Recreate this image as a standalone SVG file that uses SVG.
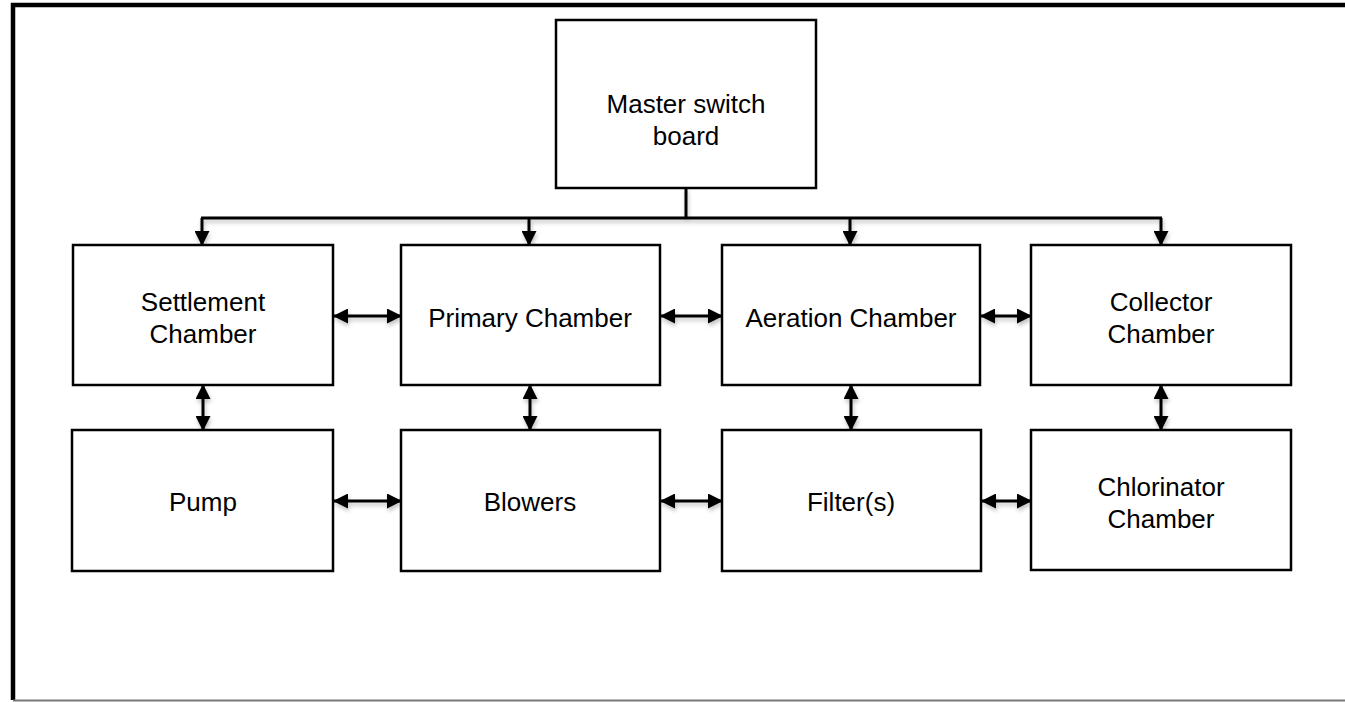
<svg xmlns="http://www.w3.org/2000/svg" width="1345" height="702" viewBox="0 0 1345 702">
  <style>
    .box { fill: #ffffff; stroke: #000000; stroke-width: 2.5; }
    .label { font-family: "Liberation Sans", Arial, sans-serif; font-size: 26px; fill: #000000; text-anchor: middle; }
    .wire { fill: none; stroke: #000000; stroke-width: 3; }
  </style>
  <defs>
    <filter id="shade" x="-20%" y="-20%" width="140%" height="140%">
      <feGaussianBlur in="SourceAlpha" stdDeviation="2"/>
      <feOffset dx="1" dy="3" result="blur"/>
      <feComponentTransfer><feFuncA type="linear" slope="0.25"/></feComponentTransfer>
      <feMerge><feMergeNode/><feMergeNode in="SourceGraphic"/></feMerge>
    </filter>
    <marker id="head" viewBox="0 0 15 15" refX="14" refY="7.5" markerWidth="15" markerHeight="15" markerUnits="userSpaceOnUse" orient="auto-start-reverse">
      <path d="M0,0 L15,7.5 L0,15 Z" fill="#000000"/>
    </marker>
  </defs>

  <rect width="1345" height="702" fill="#ffffff"/>

  <!-- page frame -->
  <path d="M13,700 L13,5 L1345,5" fill="none" stroke="#000000" stroke-width="4.5"/>
  <line x1="13" y1="700.5" x2="1345" y2="700.5" stroke="#777777" stroke-width="2"/>

  <g id="connectors" filter="url(#shade)">
    <!-- distribution bus from the master board -->
    <line class="wire" x1="686" y1="188" x2="686" y2="218" stroke-width="3.5"/>
    <line class="wire" x1="201" y1="218" x2="1162" y2="218"/>
    <line class="wire" x1="202" y1="218" x2="202" y2="245" marker-end="url(#head)"/>
    <line class="wire" x1="529" y1="218" x2="529" y2="245" marker-end="url(#head)"/>
    <line class="wire" x1="850" y1="218" x2="850" y2="245" marker-end="url(#head)"/>
    <line class="wire" x1="1161" y1="218" x2="1161" y2="245" marker-end="url(#head)"/>

    <!-- links along the upper row -->
    <line class="wire" x1="334" y1="316" x2="401" y2="316" marker-start="url(#head)" marker-end="url(#head)"/>
    <line class="wire" x1="661" y1="316" x2="722" y2="316" marker-start="url(#head)" marker-end="url(#head)"/>
    <line class="wire" x1="981" y1="316" x2="1031" y2="316" marker-start="url(#head)" marker-end="url(#head)"/>

    <!-- links between the rows -->
    <line class="wire" x1="203" y1="385" x2="203" y2="430" marker-start="url(#head)" marker-end="url(#head)"/>
    <line class="wire" x1="530" y1="385" x2="530" y2="430" marker-start="url(#head)" marker-end="url(#head)"/>
    <line class="wire" x1="851" y1="385" x2="851" y2="430" marker-start="url(#head)" marker-end="url(#head)"/>
    <line class="wire" x1="1161" y1="385" x2="1161" y2="430" marker-start="url(#head)" marker-end="url(#head)"/>

    <!-- links along the lower row -->
    <line class="wire" x1="334" y1="501" x2="401" y2="501" marker-start="url(#head)" marker-end="url(#head)"/>
    <line class="wire" x1="661" y1="501" x2="722" y2="501" marker-start="url(#head)" marker-end="url(#head)"/>
    <line class="wire" x1="982" y1="501" x2="1031" y2="501" marker-start="url(#head)" marker-end="url(#head)"/>
  </g>

  <g id="master">
    <rect class="box" x="556" y="20" width="260" height="168"/>
    <text class="label" x="686" y="113">Master switch</text>
    <text class="label" x="686" y="145">board</text>
  </g>

  <g id="settlement">
    <rect class="box" x="73" y="245" width="260" height="140"/>
    <text class="label" x="203" y="311">Settlement</text>
    <text class="label" x="203" y="343">Chamber</text>
  </g>
  <g id="primary">
    <rect class="box" x="401" y="245" width="259" height="140"/>
    <text class="label" x="530" y="327">Primary Chamber</text>
  </g>
  <g id="aeration">
    <rect class="box" x="722" y="245" width="258" height="140"/>
    <text class="label" x="851" y="327">Aeration Chamber</text>
  </g>
  <g id="collector">
    <rect class="box" x="1031" y="245" width="260" height="140"/>
    <text class="label" x="1161" y="311">Collector</text>
    <text class="label" x="1161" y="343">Chamber</text>
  </g>

  <g id="pump">
    <rect class="box" x="72" y="430" width="261" height="141"/>
    <text class="label" x="203" y="511">Pump</text>
  </g>
  <g id="blowers">
    <rect class="box" x="401" y="430" width="259" height="141"/>
    <text class="label" x="530" y="511">Blowers</text>
  </g>
  <g id="filters">
    <rect class="box" x="722" y="430" width="259" height="141"/>
    <text class="label" x="851" y="511">Filter(s)</text>
  </g>
  <g id="chlorinator">
    <rect class="box" x="1031" y="430" width="260" height="140"/>
    <text class="label" x="1161" y="496">Chlorinator</text>
    <text class="label" x="1161" y="528">Chamber</text>
  </g>
</svg>
